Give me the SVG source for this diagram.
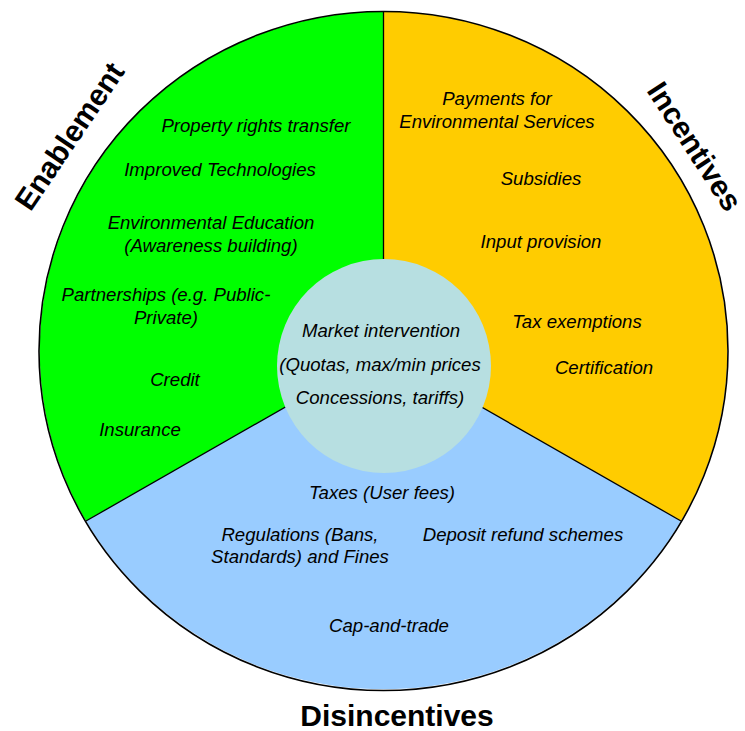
<svg xmlns="http://www.w3.org/2000/svg" width="745" height="731" viewBox="0 0 745 731">
<style>
.lbl{font-family:"Liberation Sans",Arial,sans-serif;font-style:italic;font-size:18.6px;fill:#000;text-anchor:middle}
.ttl{font-family:"Liberation Sans",Arial,sans-serif;font-weight:bold;font-size:30px;fill:#000;text-anchor:middle}
.div{stroke:#000;stroke-width:1.3;fill:none}
</style>
<rect width="745" height="731" fill="#fff"/>
<g id="enablement">
<path d="M383.5,351 L383.5,11.5 A344.5,339.5 0 0,0 86,521 Z" fill="#00FF00"/>
<text class="lbl" x="256" y="132">Property rights transfer</text>
<text class="lbl" x="220" y="176">Improved Technologies</text>
<text class="lbl" x="211" y="229">Environmental Education</text>
<text class="lbl" x="211" y="252">(Awareness building)</text>
<text class="lbl" x="166" y="301">Partnerships (e.g. Public-</text>
<text class="lbl" x="166" y="324">Private)</text>
<text class="lbl" x="175" y="386">Credit</text>
<text class="lbl" x="140" y="436">Insurance</text>
<text class="ttl" transform="translate(78,142) rotate(-56)" x="0" y="0">Enablement</text>
</g>
<g id="incentives">
<path d="M383.5,351 L383.5,11.5 A344.5,339.5 0 0,1 681,521 Z" fill="#FFCC00"/>
<text class="lbl" x="497" y="105">Payments for</text>
<text class="lbl" x="497" y="128">Environmental Services</text>
<text class="lbl" x="541" y="185">Subsidies</text>
<text class="lbl" x="541" y="248">Input provision</text>
<text class="lbl" x="577" y="328">Tax exemptions</text>
<text class="lbl" x="604" y="374">Certification</text>
<text class="ttl" transform="translate(686,152) rotate(57)" x="0" y="0">Incentives</text>
</g>
<g id="disincentives">
<path d="M383.5,351 L86,521 A344.5,339.5 0 0,0 681,521 Z" fill="#99CCFF"/>
<text class="lbl" x="382" y="499">Taxes (User fees)</text>
<text class="lbl" x="300" y="541">Regulations (Bans,</text>
<text class="lbl" x="300" y="563">Standards) and Fines</text>
<text class="lbl" x="523" y="541">Deposit refund schemes</text>
<text class="lbl" x="389" y="632">Cap-and-trade</text>
<text class="ttl" x="397" y="726">Disincentives</text>
</g>
<g id="connectors">
<path class="div" d="M383.5,351 L383.5,11.5"/>
<path class="div" d="M383.5,351 L86,521"/>
<path class="div" d="M383.5,351 L681,521"/>
<ellipse cx="383.5" cy="351" rx="344.5" ry="339.5" fill="none" stroke="#000" stroke-width="1.6"/>
</g>
<g id="market-intervention">
<circle cx="384" cy="366" r="107" fill="#B7DFE1"/>
<text class="lbl" x="381" y="337">Market intervention</text>
<text class="lbl" x="380" y="371">(Quotas, max/min prices</text>
<text class="lbl" x="380" y="404">Concessions, tariffs)</text>
</g>
</svg>
